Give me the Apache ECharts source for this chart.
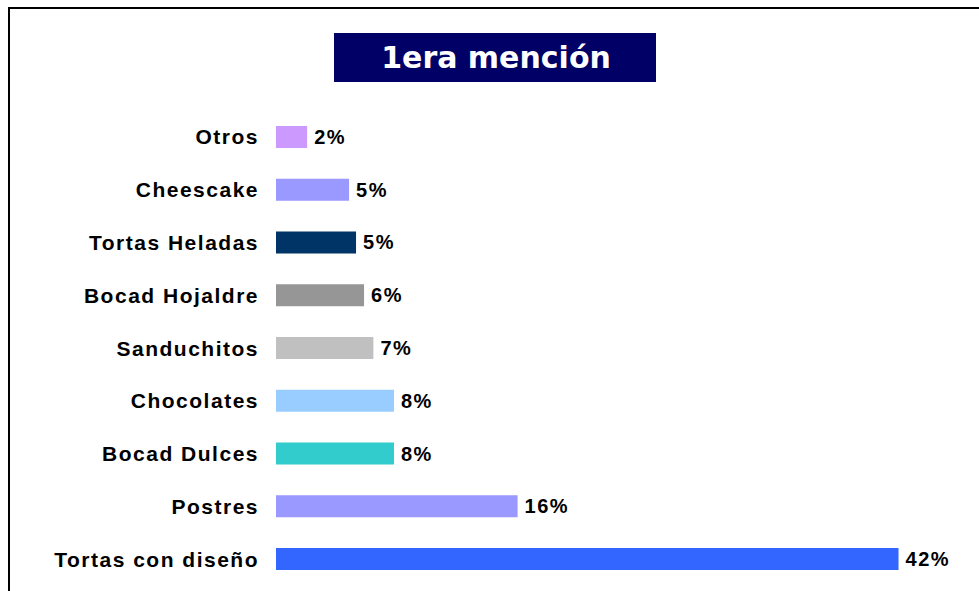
<!DOCTYPE html>
<html>
<head>
<meta charset="utf-8">
<script src="https://cdn.jsdelivr.net/npm/echarts@6/dist/echarts.min.js"></script>
<style>html,body{margin:0;padding:0;background:#fff;}#c{width:979px;height:591px;}#c text{letter-spacing:1.5px;}#c text[fill="#fff"],#c text[fill="#ffffff"],#c text[fill="rgb(255,255,255)"]{letter-spacing:0;}</style>
</head>
<body>
<div id="c"></div>
<script>
const categories = ['Tortas con diseño','Postres','Bocad Dulces','Chocolates','Sanduchitos','Bocad Hojaldre','Tortas Heladas','Cheescake','Otros'];
const values = [42.0, 16.3, 7.96, 7.96, 6.57, 5.94, 5.4, 4.93, 2.1];
const colors = ['#3366FF','#9999FF','#33CCCC','#99CCFF','#C0C0C0','#969696','#003366','#9999FF','#CC99FF'];
const titleText = '1era mención';

const chart = echarts.init(document.getElementById('c'), null, {renderer: 'svg'});
chart.setOption({
  animation: false,
  backgroundColor: '#ffffff',
  grid: {left: 276, right: 36, top: 110.6, bottom: 5.6, containLabel: false},
  xAxis: {type: 'value', min: 0, max: 45, show: false},
  yAxis: {
    type: 'category', data: categories,
    axisLine: {show: false}, axisTick: {show: false}, splitLine: {show: false},
    axisLabel: {margin: 17, color: '#000', fontFamily: 'Liberation Sans, Arial', fontWeight: 'bold', fontSize: 21, verticalAlign: 'middle', lineHeight: 21, padding: [0, 0, 6, 0]}
  },
  series: [{
    type: 'bar', barWidth: 22,
    data: values.map((v, i) => ({value: v, itemStyle: {color: colors[i]}})),
    label: {show: true, position: 'right', distance: 7, color: '#000', fontFamily: 'Liberation Sans, Arial', fontWeight: 'bold', fontSize: 20,
      formatter: p => Math.round(p.value) + '%'}
  }],
  graphic: [
    {type: 'line', shape: {x1: 8, y1: 8, x2: 979, y2: 8}, style: {stroke: '#000', lineWidth: 2}},
    {type: 'line', shape: {x1: 9, y1: 7, x2: 9, y2: 591}, style: {stroke: '#000', lineWidth: 2}},
    {type: 'rect', shape: {x: 334, y: 33, width: 322, height: 49}, style: {fill: '#000066'}},
    {type: 'text', x: 496, y: 57, style: {text: titleText, fill: '#fff', font: 'bold 30px "DejaVu Sans", Verdana', textAlign: 'center', textVerticalAlign: 'middle'}}
  ]
});
</script>
</body>
</html>
